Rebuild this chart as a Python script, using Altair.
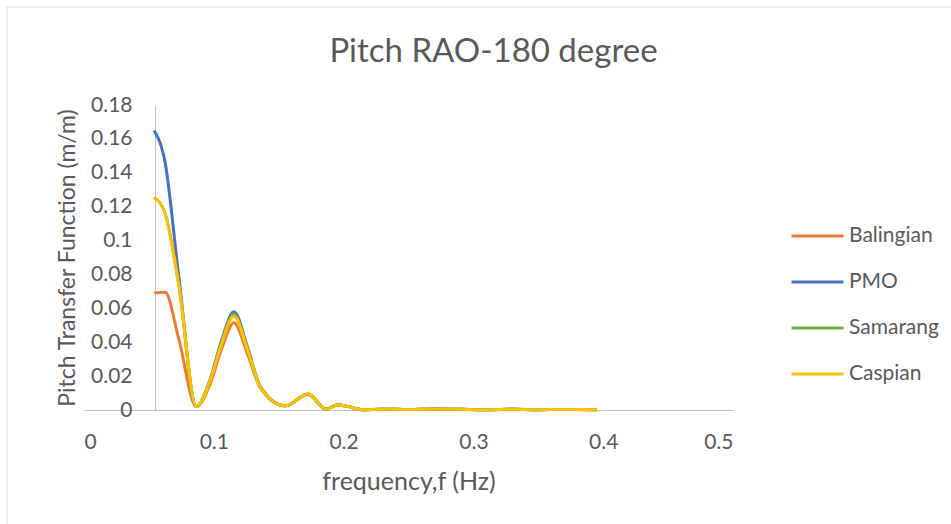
import altair as alt
import pandas as pd

# Wave frequency (Hz) at which the pitch response was evaluated
freq = [0.054, 0.0625, 0.073, 0.0865, 0.097, 0.106, 0.1155, 0.126, 0.136,
        0.155, 0.1725, 0.1865, 0.195, 0.205, 0.214, 0.23, 0.25, 0.27,
        0.29, 0.31, 0.33, 0.35, 0.37, 0.395]

# Pitch transfer function (m/m) for each field
balingian = [0.069, 0.0695, 0.042, 0.002, 0.015, 0.036, 0.0515, 0.033, 0.013,
             0.0024, 0.0093, 0.0005, 0.003, 0.0018, 0.0002, 0.0005, 0.0003, 0.0006,
             0.0004, 0.0002, 0.0004, 0.0002, 0.0003, 0.0002]
pmo = [0.165, 0.146, 0.079, 0.002, 0.0175, 0.041, 0.058, 0.037, 0.0135,
       0.0025, 0.0095, 0.0005, 0.003, 0.0018, 0.0002, 0.0005, 0.0003, 0.0006,
       0.0004, 0.0002, 0.0004, 0.0002, 0.0003, 0.0002]
samarang = [0.1255, 0.116, 0.074, 0.002, 0.017, 0.040, 0.0567, 0.036, 0.0135,
            0.0025, 0.0095, 0.0005, 0.003, 0.0018, 0.0002, 0.0005, 0.0003, 0.0006,
            0.0004, 0.0002, 0.0004, 0.0002, 0.0003, 0.0002]
caspian = [0.1255, 0.116, 0.074, 0.002, 0.0168, 0.039, 0.0555, 0.0355, 0.0133,
           0.0025, 0.0094, 0.0005, 0.003, 0.0018, 0.0002, 0.0005, 0.0003, 0.0006,
           0.0004, 0.0002, 0.0004, 0.0002, 0.0003, 0.0002]

series_names = ["Balingian", "PMO", "Samarang", "Caspian"]
series_values = [balingian, pmo, samarang, caspian]
series_colors = ["#ED7D31", "#4472C4", "#70AD47", "#FFC000"]

x_ticks = [0, 0.1, 0.2, 0.3, 0.4, 0.5]
y_ticks = [0, 0.02, 0.04, 0.06, 0.08, 0.1, 0.12, 0.14, 0.16, 0.18]

rows = []
for name, vals in zip(series_names, series_values):
    for f, v in zip(freq, vals):
        rows.append({"frequency": f, "rao": v, "field": name})
df = pd.DataFrame(rows)

FONT = "Lato"
TEXT = "#595959"
AXIS_GREY = "#BFBFBF"

x_enc = alt.X(
    "frequency:Q",
    scale=alt.Scale(domain=[0, 0.5], nice=False, zero=True),
    axis=alt.Axis(
        title="frequency,f (Hz)", values=x_ticks, format="~g",
        grid=False, ticks=False, domainColor=AXIS_GREY, domainWidth=1,
        labelFont=FONT, labelFontSize=21, labelColor=TEXT, labelPadding=21,
        titleFont=FONT, titleFontSize=25, titleFontWeight="normal",
        titleColor=TEXT, titlePadding=17,
    ),
)
y_enc = alt.Y(
    "rao:Q",
    scale=alt.Scale(domain=[0, 0.18], nice=False),
    axis=alt.Axis(
        title="Pitch Transfer Function (m/m)", values=y_ticks, format="~g",
        grid=False, ticks=False, domainColor=AXIS_GREY, domainWidth=1,
        offset=-71,
        labelFont=FONT, labelFontSize=21, labelColor=TEXT, labelPadding=23,
        titleFont=FONT, titleFontSize=23, titleFontWeight="normal",
        titleColor=TEXT, titleX=-88, titleBaseline="middle",
    ),
)
color_enc = alt.Color(
    "field:N",
    scale=alt.Scale(domain=series_names, range=series_colors),
    legend=alt.Legend(
        title=None, orient="none", legendX=706, legendY=120,
        symbolType="stroke", symbolSize=2700, symbolStrokeWidth=3,
        labelFont=FONT, labelFontSize=21, labelColor=TEXT, labelOffset=4,
        clipHeight=22, rowPadding=24, padding=0,
    ),
)

# Excel-like outer chart frame: top and left edges
frame_src = pd.DataFrame({"a": [0]})
frame_top = alt.Chart(frame_src).mark_rule(color="#D9D9D9", strokeWidth=1).encode(
    x=alt.value(-77), x2=alt.value(900), y=alt.value(-98)
)
frame_left = alt.Chart(frame_src).mark_rule(color="#D9D9D9", strokeWidth=1).encode(
    x=alt.value(-77), y=alt.value(-98), y2=alt.value(600)
)

layers = [frame_top, frame_left]
for name in series_names:
    layers.append(
        alt.Chart(df).transform_filter(alt.datum.field == name)
        .mark_line(interpolate="monotone", strokeWidth=3, clip=False)
        .encode(x=x_enc, y=y_enc, color=color_enc)
    )

chart = alt.layer(*layers).properties(
    width=649, height=305,
    background="white",
    title=alt.TitleParams(
        "Pitch RAO-180 degree", font=FONT, fontSize=33, fontWeight="normal",
        color=TEXT, anchor="middle", frame="group", dx=85, offset=-62,
    ),
    padding={"left": 84, "top": 105, "right": 218, "bottom": 114},
    autosize="none",
).configure_view(stroke="transparent")

chart.save("out.html", embed_options={"renderer": "svg", "actions": False})
